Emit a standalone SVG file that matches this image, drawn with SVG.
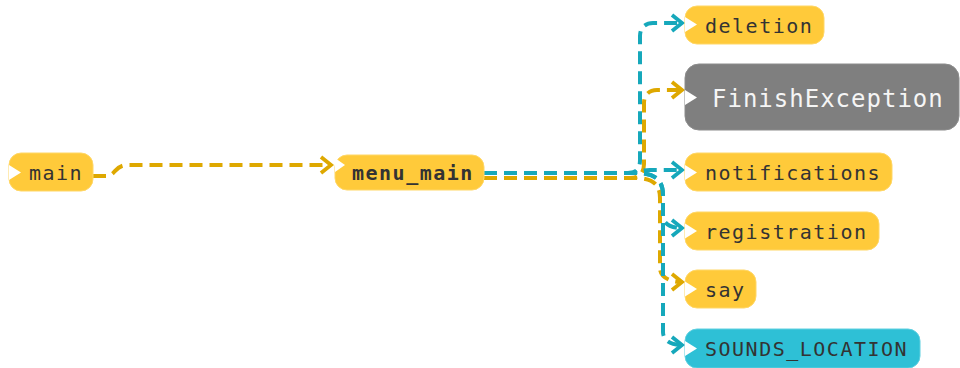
<svg xmlns="http://www.w3.org/2000/svg" width="960" height="368" viewBox="0 0 960 368">
<style>
.y{fill:#ffca3a;stroke:#ffd766;stroke-width:1}
.c{fill:#2ec0d6;stroke:#5fd0e0;stroke-width:1}
.g{fill:#7f7f7f;stroke:#8c8c8c;stroke-width:1}
.n{fill:#ffffff}
.t{font-family:"DejaVu Sans Mono","Liberation Mono",monospace;font-size:20px;letter-spacing:1.5px;fill:#333333}
.b{font-weight:bold}
.w{font-family:"DejaVu Sans Mono","Liberation Mono",monospace;font-size:24px;letter-spacing:1px;fill:#f5f5f5}
.e{fill:none;stroke-width:4;stroke-dasharray:13 7;stroke-linecap:butt}
.eg{stroke:#dea800}
.ec{stroke:#16a8bb}
</style>
<defs>
<marker id="ag" markerUnits="userSpaceOnUse" markerWidth="16" markerHeight="22" viewBox="-12 -11 16 22" refX="0" refY="0" orient="auto">
<path d="M-10,-8 L0,0 L-10,8" fill="none" stroke="#dea800" stroke-width="3.8" stroke-linejoin="miter"/>
</marker>
<marker id="ac" markerUnits="userSpaceOnUse" markerWidth="16" markerHeight="22" viewBox="-12 -11 16 22" refX="0" refY="0" orient="auto">
<path d="M-10,-8 L0,0 L-10,8" fill="none" stroke="#16a8bb" stroke-width="3.8" stroke-linejoin="miter"/>
</marker>
</defs>
<g id="connectors">
<path class="e eg" d="M93,176 L106,176 C116,176 114,165 128,165 L331,165" marker-end="url(#ag)"/>
<path class="e ec" d="M484,173 L628,173 C637,173 640,168 640,160 L640,36 C640,28 645,23 653,23 L682,23" marker-end="url(#ac)"/>
<path class="e eg" d="M484,178 L630,178 C640,178 644,172 644,164 L644,103 C644,95 649,90 657,90 L682,90" marker-end="url(#ag)"/>
<path class="e ec" d="M484,173 L628,173 C638,173 640,170 650,170 L682,170" marker-end="url(#ac)"/>
<path class="e ec" d="M484,173 L636,173 C655,173 663,180 663,195 L663,216 C663,223 670,228 682,228" marker-end="url(#ac)"/>
<path class="e eg" d="M484,178 L636,178 C652,178 660,184 660,198 L660,268 C660,276 668,282 682,282" marker-end="url(#ag)"/>
<path class="e ec" d="M484,173 L636,173 C655,173 663,180 663,195 L663,332 C663,340 670,345 682,345" marker-end="url(#ac)"/>
</g>
<g id="main">
<rect class="y" x="9" y="153" width="84" height="38" rx="12"/>
<polygon class="n" points="9,165 21,172.5 9,180"/>
<text class="t" x="29" y="179.5">main</text>
</g>
<g id="menu_main">
<rect class="y" x="335" y="155" width="149" height="35" rx="12"/>
<polygon class="n" points="335,158 345,165 335,172"/>
<text class="t b" x="352" y="180">menu_main</text>
</g>
<g id="deletion">
<rect class="y" x="685" y="6" width="139" height="38" rx="12"/>
<polygon class="n" points="685,17 697,24.5 685,32"/>
<text class="t" x="705" y="32.5">deletion</text>
</g>
<g id="FinishException">
<rect class="g" x="685" y="64" width="274" height="66" rx="14"/>
<polygon class="n" points="685,90 697,97.5 685,105"/>
<text class="w" x="712" y="106.5">FinishException</text>
</g>
<g id="notifications">
<rect class="y" x="685" y="153" width="207" height="38" rx="12"/>
<polygon class="n" points="685,165 697,172.5 685,180"/>
<text class="t" x="705" y="180">notifications</text>
</g>
<g id="registration">
<rect class="y" x="685" y="212" width="194" height="38" rx="12"/>
<polygon class="n" points="685,223.5 697,231 685,238.5"/>
<text class="t" x="705" y="238.5">registration</text>
</g>
<g id="say">
<rect class="y" x="685" y="270" width="71" height="38" rx="12"/>
<polygon class="n" points="685,281.5 697,289 685,296.5"/>
<text class="t" x="705" y="296.5">say</text>
</g>
<g id="SOUNDS_LOCATION">
<rect class="c" x="685" y="329" width="235" height="39" rx="12"/>
<polygon class="n" points="685,341 697,348.5 685,356"/>
<text class="t" x="705" y="356">SOUNDS_LOCATION</text>
</g>
</svg>
